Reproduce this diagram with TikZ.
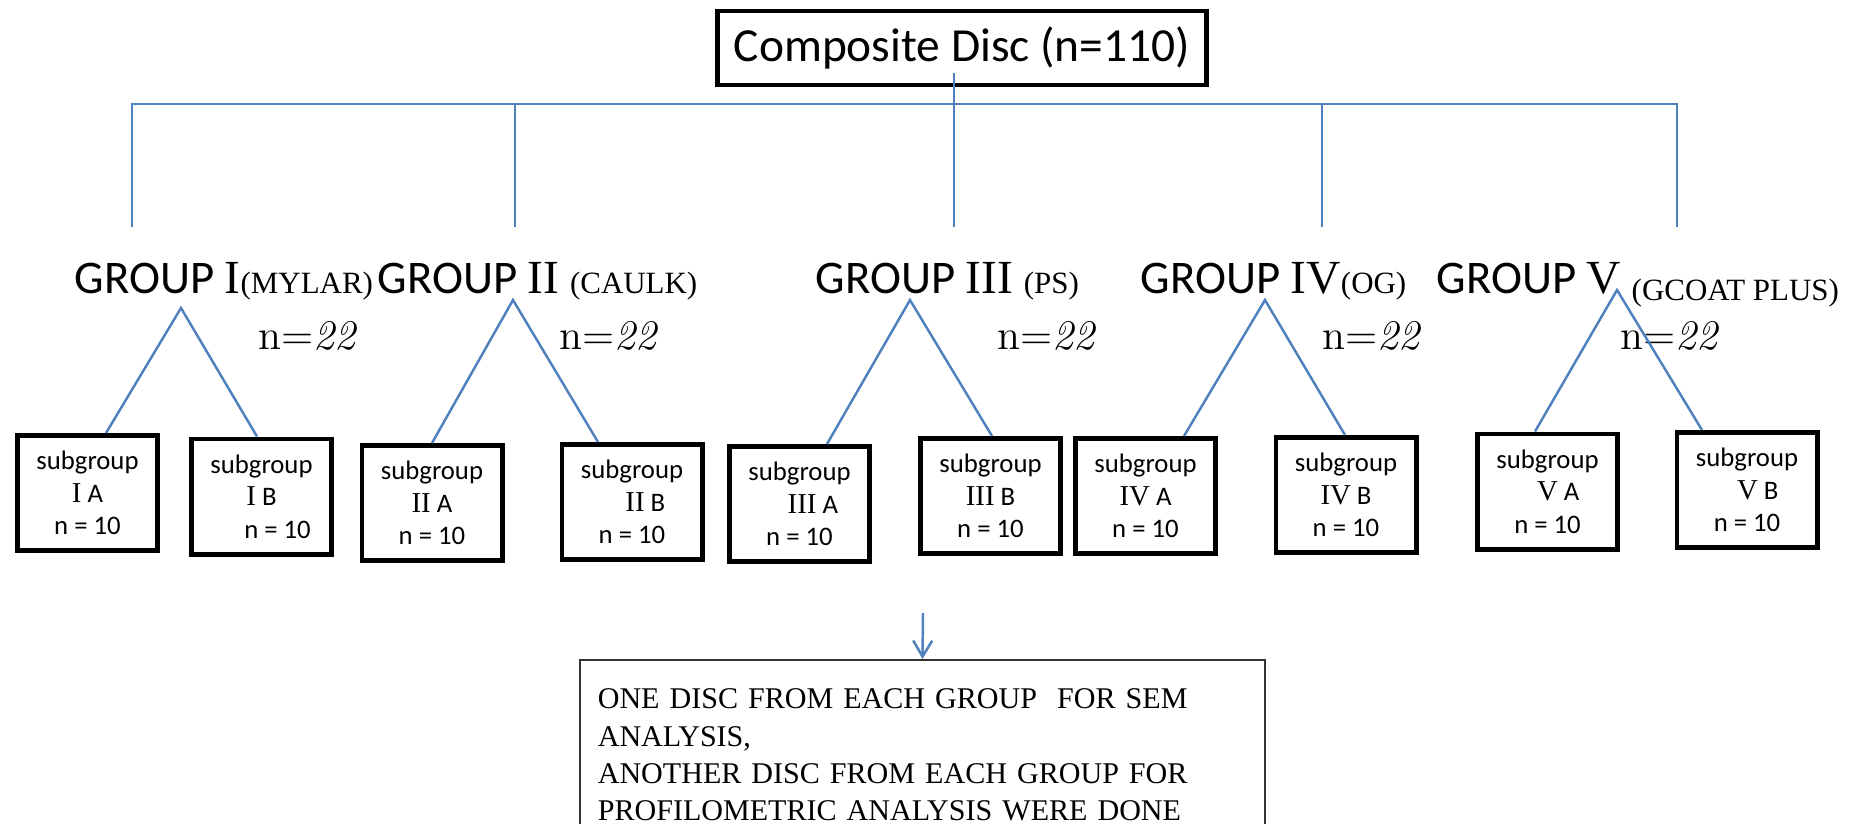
\documentclass[tikz,border=0pt]{standalone}
\usepackage{fontspec}
\usetikzlibrary{arrows.meta}
\newfontfamily\calfont{Carlito}
\newfontfamily\timesfont{Liberation Serif}
\definecolor{linkblue}{RGB}{79,129,189}
\newcommand{\rnum}[1]{{\timesfont\fontsize{13.5}{16}\selectfont #1}}
\newcommand{\gnote}[1]{{\timesfont\fontsize{8.8}{10}\selectfont #1}}
\newcommand{\snum}[1]{{\timesfont\fontsize{8.2}{9.2}\selectfont #1}}
\tikzset{
  branch/.style={draw=linkblue,line width=0.7pt},
  topbox/.style={draw,line width=1.4pt,minimum width=4.88cm,minimum height=0.74cm,
    font=\calfont\fontsize{13.5}{16}\selectfont},
  subbox/.style={draw,line width=1.4pt,minimum width=1.40cm,minimum height=1.15cm,
    align=center,font=\calfont\fontsize{7.6}{9.2}\selectfont},
  grplabel/.style={anchor=base west,inner sep=0,font=\calfont\fontsize{13.3}{16}\selectfont},
  nlabel/.style={anchor=base,inner sep=0,font=\fontsize{12}{14}\selectfont},
  notebox/.style={draw=black!80,line width=0.5pt,anchor=north,text width=6.49cm,align=left,
    inner xsep=0.18cm,inner ysep=0.29cm,font=\timesfont\fontsize{8.55}{10.6}\selectfont}
}
\begin{document}
\begin{tikzpicture}[x=0.01cm,y=-0.01cm,>={Straight Barb[length=1.6mm,width=1.9mm]}]
\useasboundingbox (0,0) rectangle (1854,824);
\node[topbox] (disc) at (962,48) {Composite Disc (n=110)};
\coordinate (c0) at (954,73);
\foreach \i/\x in {1/132,2/515,3/954,4/1322,5/1677}
  \coordinate (d\i) at (\x,227);
\coordinate (hub) at (954,104);
\draw[branch] (d1) -- (d1 |- hub) -- (d5 |- hub) -- (d5);
\draw[branch] (c0) -- (d3);
\draw[branch] (d2) -- (d2 |- hub);
\draw[branch] (d4) -- (d4 |- hub);

\node[grplabel] (g1) at (74,293) {GROUP \rnum{I}\gnote{(MYLAR)}};
\node[grplabel] (g2) at (377,293) {GROUP \rnum{II} \gnote{(CAULK)}};
\node[grplabel] (g3) at (815,293) {GROUP \rnum{III} \gnote{(PS)}};
\node[grplabel] (g4) at (1140,293) {GROUP \rnum{IV}\gnote{(OG)}};
\node[grplabel] (g5) at (1436,293) {GROUP \rnum{V} \raisebox{-2pt}{\gnote{(GCOAT PLUS)}}};

\foreach \i/\x in {1/308,2/609,3/1047,4/1372,5/1670}
  \node[nlabel] (n\i) at (\x,349) {n=\textit{22}};

\node[subbox] (IA) at (87.5,493) {subgroup\\\snum{I} A\\n = 10};
\node[subbox] (IB) at (261.5,496.5) {subgroup\\\snum{I} B\\\hspace{1.2em}n = 10};
\node[subbox] (IIA) at (432,503) {subgroup\\\snum{II} A\\n = 10};
\node[subbox] (IIB) at (632,502) {subgroup\\\hspace{1em}\snum{II} B\\n = 10};
\node[subbox] (IIIA) at (799.5,504) {subgroup\\\hspace{1em}\snum{III} A\\n = 10};
\node[subbox] (IIIB) at (990.5,496) {subgroup\\\snum{III} B\\n = 10};
\node[subbox] (IVA) at (1145.5,496) {subgroup\\\snum{IV} A\\n = 10};
\node[subbox] (IVB) at (1346,495) {subgroup\\\snum{IV} B\\n = 10};
\node[subbox] (VA) at (1547.5,491.5) {subgroup\\\hspace{0.8em}\snum{V} A\\n = 10};
\node[subbox] (VB) at (1747,490) {subgroup\\\hspace{0.8em}\snum{V} B\\n = 10};

\coordinate (a1) at (181,308);
\coordinate (a2) at (513,300);
\coordinate (a3) at (910,300);
\coordinate (a4) at (1265,300);
\coordinate (a5) at (1617,290);
\draw[branch] ([xshift=0.185cm]IA.north) -- (a1) -- ([xshift=-0.045cm]IB.north);
\draw[branch] (IIA.north) -- (a2) -- ([xshift=-0.34cm]IIB.north);
\draw[branch] ([xshift=0.275cm]IIIA.north) -- (a3) -- ([xshift=0.015cm]IIIB.north);
\draw[branch] ([xshift=0.385cm]IVA.north) -- (a4) -- ([xshift=-0.01cm]IVB.north);
\draw[branch] ([xshift=-0.125cm]VA.north) -- (a5) -- ([xshift=-0.45cm]VB.north);

\node[notebox] (sem) at (922.5,659) {ONE DISC FROM EACH GROUP\ \ FOR SEM\\ANALYSIS,\\
  ANOTHER DISC FROM EACH GROUP FOR\\PROFILOMETRIC ANALYSIS WERE DONE\strut};
\coordinate (arr) at (923,613);
\draw[branch,->] (arr) -- (sem.north);
\end{tikzpicture}
\end{document}
